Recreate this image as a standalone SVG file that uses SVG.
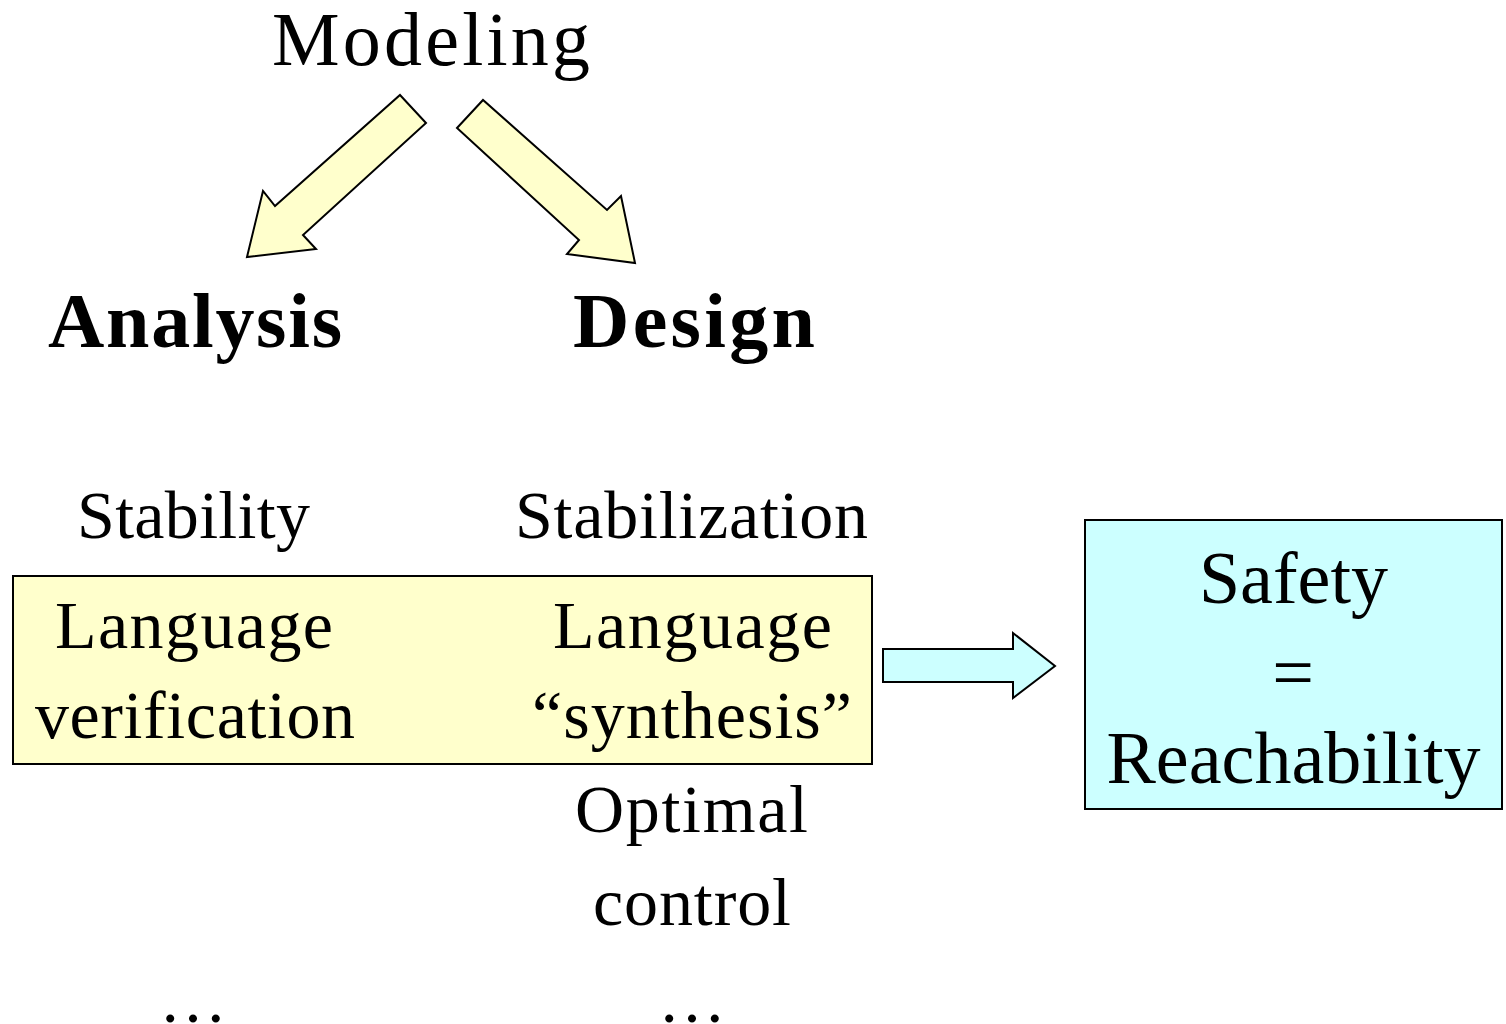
<svg xmlns="http://www.w3.org/2000/svg" width="1506" height="1024" viewBox="0 0 1506 1024">
  <style>
    .t { font-family: "Liberation Serif", "Times New Roman", serif; fill: #000; text-anchor: middle; }
    .big { font-size: 76px; }
    .hd { font-size: 78px; font-weight: bold; }
    .md { font-size: 68px; }
    .tm { font-size: 74px; }
    .fat { stroke: #000; stroke-width: 2; stroke-linejoin: miter; }
    .yel { fill: #FFFFCC; }
    .cyan { fill: #CCFFFF; }
  </style>
  <rect width="1506" height="1024" fill="#fff"/>

  <g id="modeling">
    <text class="t big" x="431" y="65" textLength="318">Modeling</text>
  </g>

  <g id="connectors">
    <polygon class="fat yel" points="400,95 426,123 303,235 316,249 247,257 263,191 275,206"/>
    <polygon class="fat yel" points="457,128 483,100 607,210 621,196 635,263 567,254 579,240"/>
    <polygon class="fat cyan" points="883,649 1013,649 1013,633 1055,666 1013,698 1013,682 883,682"/>
  </g>

  <g id="analysis">
    <text class="t hd" x="195" y="347" textLength="294">Analysis</text>
    <text class="t md" x="193.5" y="538" textLength="233">Stability</text>
    <text class="t md" x="193" y="1022">…</text>
  </g>

  <g id="design">
    <text class="t hd" x="694" y="347" textLength="242">Design</text>
    <text class="t md" x="691.5" y="538" textLength="353">Stabilization</text>
    <text class="t md" x="691.5" y="832" textLength="233">Optimal</text>
    <text class="t md" x="692" y="925" textLength="198">control</text>
    <text class="t md" x="692" y="1022">…</text>
  </g>

  <g id="language">
    <rect class="fat yel" x="13" y="576" width="859" height="188"/>
    <text class="t md" x="194" y="648" textLength="278">Language</text>
    <text class="t md" x="195" y="738" textLength="320">verification</text>
    <text class="t md" x="692.5" y="648" textLength="279">Language</text>
    <text class="t md" x="692" y="738" textLength="320">“synthesis”</text>
  </g>

  <g id="safety">
    <rect class="fat cyan" x="1085" y="520" width="417" height="289"/>
    <text class="t tm" x="1293.5" y="603">Safety</text>
    <text class="t tm" x="1293" y="697">=</text>
    <text class="t tm" x="1293.5" y="783">Reachability</text>
  </g>
</svg>
